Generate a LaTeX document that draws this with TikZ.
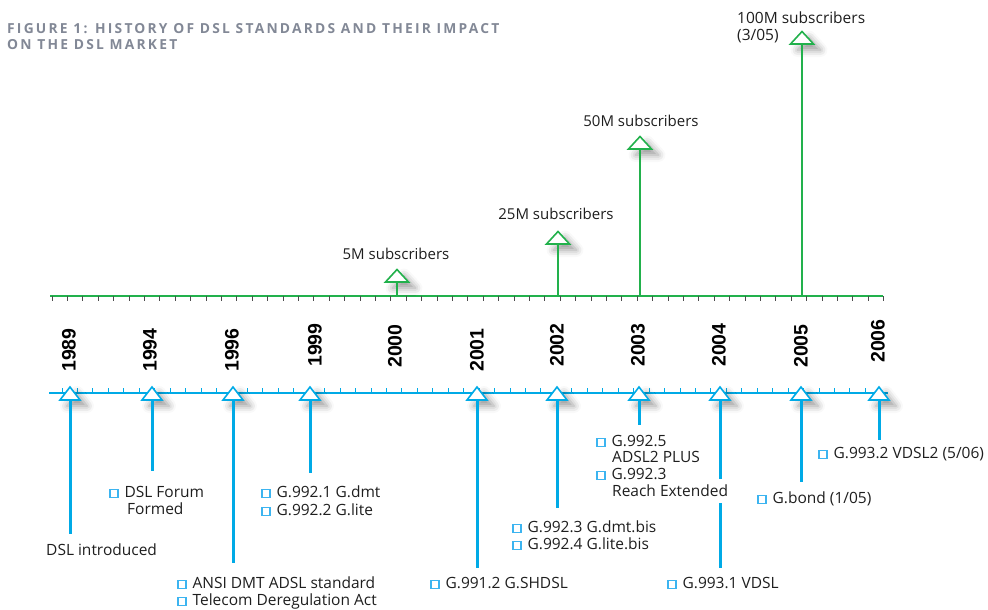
\documentclass[tikz,border=0pt]{standalone}
\usepackage{fontspec}
\setmainfont{Open Sans}
\newfontfamily\yearfont{Liberation Sans}
\newfontfamily\titlefont[LetterSpace=16]{Open Sans}
\usetikzlibrary{shadows.blur}
\definecolor{dslgreen}{RGB}{34,177,76}
\definecolor{dslblue}{RGB}{0,170,230}
\definecolor{boxblue}{RGB}{60,180,240}
\definecolor{titlegrey}{RGB}{130,136,150}
\definecolor{labeltext}{RGB}{30,30,30}
\newcommand\sqmark{{\color{boxblue}\setlength\fboxsep{0pt}\setlength\fboxrule{1.3pt}\fbox{\rule{0pt}{6.8pt}\rule{6.8pt}{0pt}}}\hspace{6pt}}
\tikzset{
  mshadow/.style={blur shadow={shadow xshift=7pt, shadow yshift=-6pt, shadow blur radius=7pt, shadow opacity=40}},
  greentri/.style={draw=dslgreen, line width=1.6pt, fill=white, mshadow},
  bluetri/.style={draw=dslblue, line width=1.6pt, fill=white, mshadow},
  greenstem/.style={dslgreen, line width=2.5pt},
  bluestem/.style={dslblue, line width=3pt},
  greentick/.style={black!70, line width=.8pt},
  bluetick/.style={dslblue, line width=1pt},
  year/.style={rotate=90, anchor=west, inner sep=0, font=\yearfont\bfseries\fontsize{19.5}{20}\selectfont},
  entry/.style={anchor=base west, inner sep=0, text=labeltext, font=\fontsize{15.5}{17}\selectfont},
  sublabel/.style={inner sep=0, text=labeltext, font=\fontsize{15}{17}\selectfont},
  heading/.style={anchor=base west, inner sep=0, text=titlegrey, font=\titlefont\bfseries\fontsize{13.8}{15}\selectfont}
}
\begin{document}
\begin{tikzpicture}[x=1pt, y=-1pt]
\useasboundingbox (0,0) rectangle (988,610);
% title
\node[heading] (title1) at (7,34) {FIGURE 1: HISTORY OF DSL STANDARDS AND THEIR IMPACT};
\node[heading] (title2) at (7,50) {ON THE DSL MARKET};

% subscriber axis
\draw[greenstem] (50,296)--(883,296);
\foreach \k in {0,...,54}
    \draw[greentick]({52+15.4*\k},296)--++(0,5);
\foreach \x/\a/\n in {397/282/5M, 558/244/25M, 640/149/50M, 802/44/100M}
{
    \coordinate (s\n) at (\x,296);
    \coordinate (t\n) at (\x,\a);
    \draw[greentri](t\n)++(-11.5,0)--++(11.5,-12.5)--++(11.5,12.5)--cycle;
    \draw[greenstem](s\n)--(t\n);
}
\node[sublabel] (m5M) at (396,254) {5M subscribers};
\node[sublabel] (m25M) at (556,214) {25M subscribers};
\node[sublabel] (m50M) at (641,121) {50M subscribers};
\node[entry] (m100M) at (737,24) {100M subscribers};
\node[entry] (m100Mb) at (737,41) {(3/05)};

% years
\foreach \x/\y/\t in {69/372/1989, 150/372/1994, 232/372/1996, 315/367/1999, 395/368/2000, 477/372/2001, 557/367/2002, 638/367/2003, 719/367/2004, 801/368/2005, 878/363/2006}
    \node[year] (y\t) at (\x,\y) {\t};

% standards axis
\draw[dslblue, line width=2pt] (49,393)--(888,393);
\foreach \k in {0,...,53}
    \draw[bluetick]({62+15.45*\k},393)--++(0,-5);
\foreach \x/\e/\n in {70/534/1989, 152/471/1994, 233/563/1996, 310/473/1999, 477/568/2001, 557/508/2002, 639/425/2003, 720/479/2004, 801/482/2005, 879/440/2006}
{
    \coordinate (b\n) at (\x,400);
    \coordinate (e\n) at (\x,\e);
    \draw[bluetri](b\n)++(-10,0)--++(10,-13)--++(10,13)--cycle;
    \draw[bluestem](b\n)--(e\n);
}
\coordinate (f2004) at (720,503);
\coordinate (g2004) at (720,568);
\draw[bluestem](f2004)--(g2004);

% standards
\node[entry] (l1989) at (46,555) {DSL introduced};
\node[entry] (l1994a) at (109,497) {\sqmark DSL Forum};
\node[entry] (l1994b) at (127,514) {Formed};
\node[entry] (l1996a) at (177,588) {\sqmark ANSI DMT ADSL standard};
\node[entry] (l1996b) at (177,605) {\sqmark Telecom Deregulation Act};
\node[entry] (l1999a) at (261,497) {\sqmark G.992.1 G.dmt};
\node[entry] (l1999b) at (261,515) {\sqmark G.992.2 G.lite};
\node[entry] (l2001) at (430,588) {\sqmark G.991.2 G.SHDSL};
\node[entry] (l2002a) at (512,532) {\sqmark G.992.3 G.dmt.bis};
\node[entry] (l2002b) at (512,549) {\sqmark G.992.4 G.lite.bis};
\node[entry] (l2003a) at (596,446) {\sqmark G.992.5};
\node[entry] (l2003b) at (612,462) {ADSL2 PLUS};
\node[entry] (l2003c) at (596,479) {\sqmark G.992.3};
\node[entry] (l2003d) at (612,496) {Reach Extended};
\node[entry] (l2004) at (667,588) {\sqmark G.993.1 VDSL};
\node[entry] (l2005) at (757,503) {\sqmark G.bond (1/05)};
\node[entry] (l2006) at (818,458) {\sqmark G.993.2 VDSL2 (5/06)};
\end{tikzpicture}
\end{document}
